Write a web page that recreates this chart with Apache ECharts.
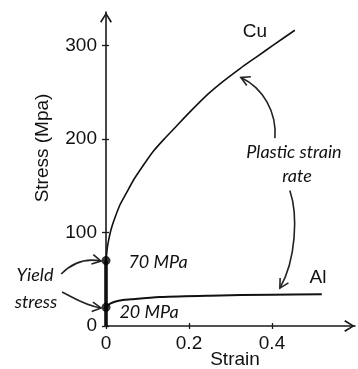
<!DOCTYPE html>
<html>
<head>
<meta charset="utf-8">
<script src="https://cdn.jsdelivr.net/npm/echarts@6/dist/echarts.min.js"></script>
<style>
html,body{margin:0;padding:0;background:#fff;}
#chart{width:358px;height:369px;}
</style>
</head>
<body>
<div id="chart"></div>
<script>
// ---- data ----
const cuStrain = [0, 0.003, 0.006, 0.012, 0.02, 0.034, 0.05, 0.066, 0.09, 0.114, 0.14, 0.17, 0.20, 0.243, 0.283, 0.323, 0.363, 0.403, 0.455];
const cuStress = [70, 83, 91, 103, 114, 130, 143, 156, 172, 187, 200, 214, 228, 247, 262, 275.5, 288, 300.5, 316.5];
const alStrain = [0, 0.01, 0.03, 0.06, 0.13, 0.25, 0.40, 0.52];
const alStress = [20, 24, 27, 28.5, 31, 32.5, 33.5, 34];
const yieldStrain = [0, 0];
const yieldStress = [70, 20];
const elasticStrain = [0, 0];
const elasticStress = [0, 70];
const yTicks = [0, 100, 200, 300];
const xTicks = [0, 0.2, 0.4];
// annotation arrows: cubic bezier control points in data units [strain, stress]
const arrowA = [[-0.108, 55.6], [-0.082, 67.4], [-0.048, 72.7], [-0.012, 69.5]];
const arrowB = [[-0.106, 36.4], [-0.077, 29.9], [-0.048, 21.4], [-0.012, 19.3]];
const arrowC = [[0.407, 201], [0.412, 229], [0.378, 255], [0.325, 266]];
const arrowD = [[0.443, 145], [0.463, 119], [0.458, 70.6], [0.419, 40.6]];
const arrows = [arrowA, arrowB, arrowC, arrowD];

const zip = (a, b) => a.map((v, i) => [v, b[i]]);

const chart = echarts.init(document.getElementById('chart'), null, {renderer: 'canvas'});
const axisColor = '#1a1a1a';
const chevron = 'path://M60,0 L120,96 L106,106 L60,30 L14,106 L0,96 Z';
const numFont = 'Liberation Sans';

function txt(text, x, y, font, opts) {
  return Object.assign({
    type: 'text', x: x, y: y, silent: true,
    style: {text: text, font: font, fill: '#111', align: 'center', verticalAlign: 'middle',
            textAlign: 'center', textVerticalAlign: 'middle'}
  }, opts || {});
}

const option = {
  animation: false,
  grid: {left: 106, right: 3, top: 12, bottom: 43, containLabel: false},
  xAxis: [{
    type: 'value', min: 0, max: 0.6, position: 'bottom',
    axisLine: {show: true, symbol: ['none', chevron], symbolSize: [12, 11], symbolOffset: [0, -5.5],
               lineStyle: {color: axisColor, width: 1.6}},
    axisTick: {show: true, inside: false, length: 3, customValues: xTicks, lineStyle: {color: axisColor, width: 1.3}},
    axisLabel: {show: true, customValues: xTicks, margin: 8, fontFamily: numFont, fontSize: 19, color: '#111',
                formatter: v => (v === 0 ? '0' : String(v))},
    splitLine: {show: false}
  }, {
    type: 'value', min: 0, max: 0.6, position: 'bottom',
    axisLine: {show: false},
    axisTick: {show: true, inside: true, length: 3, customValues: xTicks, lineStyle: {color: axisColor, width: 1.3}},
    axisLabel: {show: false}, splitLine: {show: false}
  }],
  yAxis: [{
    type: 'value', min: 0, max: 336, position: 'left',
    axisLine: {show: true, symbol: ['none', chevron], symbolSize: [12, 11], symbolOffset: [0, -5.5],
               lineStyle: {color: axisColor, width: 1.6}},
    axisTick: {show: true, inside: false, length: 4, customValues: yTicks, lineStyle: {color: axisColor, width: 1.3}},
    axisLabel: {show: true, customValues: yTicks, margin: 9, fontFamily: numFont, fontSize: 19, color: '#111'},
    splitLine: {show: false}
  }, {
    type: 'value', min: 0, max: 336, position: 'left',
    axisLine: {show: false},
    axisTick: {show: true, inside: true, length: 3, customValues: yTicks, lineStyle: {color: axisColor, width: 1.3}},
    axisLabel: {show: false}, splitLine: {show: false}
  }],
  series: [
    {
      name: 'Elastic', type: 'line', data: zip(elasticStrain, elasticStress),
      showSymbol: false, lineStyle: {color: '#111', width: 3.6}, clip: false, z: 3
    },
    {
      name: 'Cu', type: 'line', data: zip(cuStrain, cuStress), smooth: 0.2,
      showSymbol: false, lineStyle: {color: '#111', width: 1.6}, clip: false, z: 3
    },
    {
      name: 'Al', type: 'line', data: zip(alStrain, alStress), smooth: 0.3,
      showSymbol: false, lineStyle: {color: '#111', width: 2}, clip: false, z: 3
    },
    {
      name: 'Yield', type: 'scatter', data: zip(yieldStrain, yieldStress),
      symbol: 'circle', symbolSize: 9, itemStyle: {color: '#000'}, clip: false, z: 5
    },
    {
      name: 'Annotations', type: 'custom', coordinateSystem: 'cartesian2d', clip: false, silent: true,
      data: arrows.map(a => a[3]),
      renderItem: function (params, api) {
        const a = arrows[params.dataIndex];
        const p = a.map(pt => api.coord(pt));
        const dx = p[3][0] - p[2][0], dy = p[3][1] - p[2][1];
        const ang = Math.atan2(dy, dx);
        const L = 10, th = 0.5;
        const h1 = [p[3][0] - L * Math.cos(ang - th), p[3][1] - L * Math.sin(ang - th)];
        const h2 = [p[3][0] - L * Math.cos(ang + th), p[3][1] - L * Math.sin(ang + th)];
        return {
          type: 'group',
          children: [{
            type: 'bezierCurve',
            shape: {x1: p[0][0], y1: p[0][1], cpx1: p[1][0], cpy1: p[1][1],
                    cpx2: p[2][0], cpy2: p[2][1], x2: p[3][0], y2: p[3][1]},
            style: {stroke: '#222', lineWidth: 1.6, fill: null}
          }, {
            type: 'polyline',
            shape: {points: [h1, p[3], h2]},
            style: {stroke: '#222', lineWidth: 1.6, fill: null}
          }]
        };
      },
      z: 4
    }
  ],
  graphic: [
    txt('Stress (Mpa)', 43, 148, '19px "Liberation Sans"', {rotation: Math.PI / 2}),
    txt('Strain', 235, 360, '19px "Liberation Sans"'),
    txt('Cu', 255, 32, '19px "Liberation Sans"'),
    txt('Al', 318, 278, '19px "Liberation Sans"'),
    txt('Plastic strain', 294, 152, 'italic 18px Lato'),
    txt('rate', 297, 176, 'italic 18px Lato'),
    txt('70 MPa', 158, 262, 'italic 18px Lato'),
    txt('20 MPa', 149, 312, 'italic 18px Lato'),
    txt('Yield', 35, 275, 'italic 18px Lato'),
    txt('stress', 36, 302, 'italic 18px Lato')
  ]
};
chart.setOption(option);
</script>
</body>
</html>
